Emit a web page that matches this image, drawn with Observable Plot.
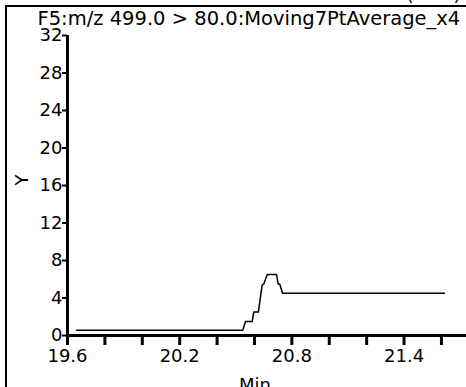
<!DOCTYPE html>
<html>
<head>
<meta charset="utf-8">
<script src="https://cdn.jsdelivr.net/npm/d3@7"></script>
<script src="https://cdn.jsdelivr.net/npm/@observablehq/plot@0.6"></script>
<style>
  html, body { margin: 0; padding: 0; background: #fff; }
  #wrap { position: relative; width: 466px; height: 387px; overflow: hidden; }
  #border { position: absolute; left: 5px; top: 5px; width: 600px; height: 600px;
            border-left: 2px solid #000; border-top: 2px solid #000; pointer-events: none; }
  svg { font-family: "DejaVu Sans", sans-serif; }
</style>
</head>
<body>
<div id="wrap"><div id="border"></div></div>
<script>
const title = "F5:m/z 499.0 > 80.0:Moving7PtAverage_x4";
const xLabel = "Min";
const yLabel = "Y";
const times  = [19.648, 20.537, 20.552, 20.588, 20.596, 20.621, 20.641, 20.650, 20.668, 20.718, 20.727, 20.735, 20.750, 21.616];
const values = [0.55,   0.55,   1.5,    1.5,    2.5,    2.5,    5.4,    5.5,    6.5,    6.5,    5.5,    5.5,    4.5,    4.5];
const xTicks = [19.6, 19.8, 20.0, 20.2, 20.4, 20.6, 20.8, 21.0, 21.2, 21.4, 21.6];
const xTickLabels = [19.6, 20.2, 20.8, 21.4];
const yTicks = [0, 4, 8, 12, 16, 20, 24, 28, 32];

const data = times.map((t, i) => ({t, v: values[i]}));

const chart = Plot.plot({
  width: 466,
  height: 387,
  marginTop: 35,
  marginBottom: 52,
  marginLeft: 67,
  marginRight: 0,
  style: {fontSize: "18px", fontFamily: "'DejaVu Sans', sans-serif", color: "#000", background: "transparent", overflow: "visible"},
  x: {domain: [19.6, 21.734]},
  y: {domain: [0, 32]},
  marks: [
    Plot.axisY({ticks: yTicks, tickSize: 5, tickPadding: 0, strokeWidth: 2, label: null, fill: "#000"}),
    Plot.axisX({ticks: xTicks, tickSize: 10, tickPadding: 4, strokeWidth: 3, label: null, fill: "#000",
      tickFormat: d => xTickLabels.some(l => Math.abs(l - d) < 1e-9) ? d3.format(".1f")(d) : ""}),
    Plot.ruleY([0], {stroke: "#000", strokeWidth: 3}),
    Plot.ruleX([19.6], {y1: 0, y2: 32, stroke: "#000", strokeWidth: 3}),
    Plot.line(data, {x: "t", y: "v", stroke: "#000", strokeWidth: 1.5}),
    Plot.text([title], {frameAnchor: "top-left", dx: -30, dy: -11, lineAnchor: "bottom", textAnchor: "start", fill: "#000", fontSize: 19.5}),
    Plot.text([yLabel], {frameAnchor: "left", dx: -45, rotate: -90, fill: "#000", fontSize: 18}),
    Plot.text([xLabel], {frameAnchor: "bottom", dx: -12, dy: 43, lineAnchor: "top", fill: "#000", fontSize: 18}),
    Plot.text(["(       )"], {frameAnchor: "top-right", dx: -6, dy: -35, lineAnchor: "bottom", textAnchor: "end", fill: "#000", fontSize: 18})
  ]
});
document.getElementById("wrap").prepend(chart);
</script>
</body>
</html>
